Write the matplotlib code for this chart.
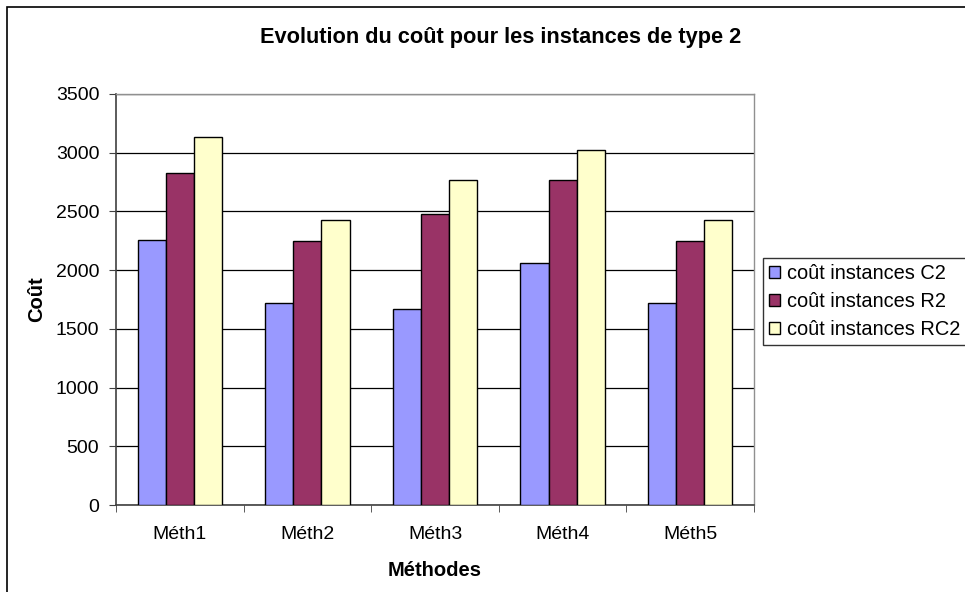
import matplotlib
matplotlib.use("Agg")
import matplotlib.pyplot as plt
import matplotlib.patches as patches
import numpy as np

plt.rcParams['font.family'] = ['Liberation Sans', 'DejaVu Sans']

methodes = ["Méth1", "Méth2", "Méth3", "Méth4", "Méth5"]
series_names = ["coût instances C2", "coût instances R2", "coût instances RC2"]
cout_c2 = [2260, 1720, 1670, 2065, 1720]
cout_r2 = [2830, 2245, 2478, 2770, 2245]
cout_rc2 = [3130, 2424, 2765, 3020, 2424]
colors = ["#9999FF", "#993366", "#FFFFCC"]

W, H = 965, 592
fig = plt.figure(figsize=(W / 100, H / 100), dpi=100)

# outer chart border (right/bottom run off the canvas)
fig.patches.append(patches.Rectangle((7 / W, -0.05), 1.1, (H - 7) / H + 0.05,
                                     transform=fig.transFigure, fill=False,
                                     edgecolor="black", linewidth=1.2))

# plot area in pixel coordinates
left, right, top, bottom = 116, 754, 94, 505
ax = fig.add_axes([left / W, 1 - bottom / H, (right - left) / W, (bottom - top) / H])

x = np.arange(len(methodes))
bw = 0.22
for i, (vals, name) in enumerate(zip([cout_c2, cout_r2, cout_rc2], series_names)):
    ax.bar(x + (i - 1) * bw, vals, bw, color=colors[i], edgecolor="black",
           linewidth=1.0, label=name, zorder=3)

ax.set_xlim(-0.5, len(methodes) - 0.5)
ax.set_ylim(0, 3500)
ax.set_yticks(np.arange(0, 3501, 500))
ax.yaxis.grid(True, color="black", linewidth=0.9, zorder=0)
ax.set_axisbelow(True)

ax.set_xticks(x)
ax.set_xticklabels(methodes, fontsize=14)
ax.set_xticks(np.arange(-0.5, len(methodes)), minor=True)
ax.tick_params(axis="x", which="major", length=0, pad=15)
ax.tick_params(axis="x", which="minor", length=5, direction="out", color="#404040")
ax.tick_params(axis="y", length=5, direction="out", labelsize=14, pad=7, color="#404040")

for s in ["left", "bottom"]:
    ax.spines[s].set_color("#404040")
    ax.spines[s].set_linewidth(1.2)
for s in ["top", "right"]:
    ax.spines[s].set_color("#909090")
    ax.spines[s].set_linewidth(1.0)

ax.set_xlabel("Méthodes", fontsize=14.5, fontweight="bold", labelpad=13)
ax.set_ylabel("Coût", fontsize=14.5, fontweight="bold", labelpad=7)
fig.text(501 / W, 1 - 38 / H, "Evolution du coût pour les instances de type 2",
         ha="center", va="center", fontsize=15.7, fontweight="bold")

leg = fig.legend(loc="upper left", bbox_to_anchor=(763 / W, 1 - 258 / H),
                 fontsize=14.4, frameon=True, fancybox=False, edgecolor="black",
                 handlelength=0.55, handleheight=0.55, handletextpad=0.35,
                 labelspacing=0.45, borderpad=0.3, borderaxespad=0)
leg.get_frame().set_linewidth(1.0)

fig.savefig("out.png", dpi=100)
